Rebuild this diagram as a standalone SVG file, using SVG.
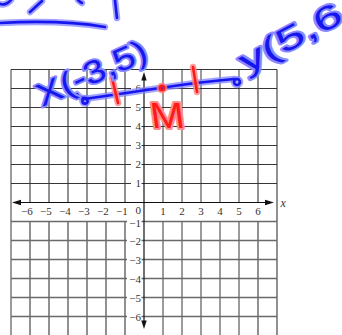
<svg xmlns="http://www.w3.org/2000/svg" width="342" height="335" viewBox="0 0 342 335">
<style>
.gd{stroke:#363636;stroke-width:1.1}
.gl{stroke:#8a8a8a;stroke-width:1.7}
.gm{stroke:#6a6a6a;stroke-width:1.4}
.ax{stroke:#111;stroke-width:1.2}
.lb{font-family:"Liberation Serif","Times New Roman",serif;font-size:11px;fill:#333}
.lbe{text-anchor:end}
.lbm{text-anchor:middle}
.it{font-style:italic;font-size:12px}
.bg{fill:none;stroke:#8383ff;stroke-opacity:0.75;stroke-width:6.5;stroke-linecap:round;stroke-linejoin:round}
.bc{fill:none;stroke:#1616ee;stroke-width:2.6;stroke-linecap:round;stroke-linejoin:round}
.rg{fill:none;stroke:#ff8585;stroke-opacity:0.8;stroke-width:6.5;stroke-linecap:round;stroke-linejoin:round}
.rc{fill:none;stroke:#ff1a1a;stroke-width:2.6;stroke-linecap:round;stroke-linejoin:round}
.bt{font-family:"Liberation Sans",Arial,sans-serif;fill:#1616ee;stroke:#8a8aff;stroke-width:3.5;stroke-linejoin:round;paint-order:stroke}
.rt{font-family:"Liberation Sans",Arial,sans-serif;fill:#ff1a1a;stroke:#ff8c8c;stroke-width:3;stroke-linejoin:round;paint-order:stroke}
</style>
<rect width="342" height="335" fill="#fff"/>
<g id="grid">
<line class="gl" x1="11" y1="69.5" x2="11" y2="335"/>
<line class="gd" x1="277" y1="69.5" x2="277" y2="335"/>
<g class="gd">
<line x1="30" y1="69.5" x2="30" y2="202.5"/><line x1="49" y1="69.5" x2="49" y2="202.5"/>
<line x1="68" y1="69.5" x2="68" y2="202.5"/><line x1="87" y1="69.5" x2="87" y2="202.5"/>
<line x1="106" y1="69.5" x2="106" y2="202.5"/><line x1="125" y1="69.5" x2="125" y2="202.5"/>
<line x1="258" y1="69.5" x2="258" y2="202.5"/>
<line x1="30" y1="221.5" x2="30" y2="335"/><line x1="49" y1="221.5" x2="49" y2="335"/>
<line x1="68" y1="221.5" x2="68" y2="335"/><line x1="87" y1="221.5" x2="87" y2="335"/>
<line x1="106" y1="221.5" x2="106" y2="335"/><line x1="125" y1="221.5" x2="125" y2="335"/>
<line x1="258" y1="221.5" x2="258" y2="335"/>
</g>
<g class="gl">
<line x1="163" y1="69.5" x2="163" y2="202.5"/><line x1="182" y1="69.5" x2="182" y2="202.5"/>
<line x1="201" y1="69.5" x2="201" y2="202.5"/><line x1="220" y1="69.5" x2="220" y2="202.5"/>
<line x1="239" y1="69.5" x2="239" y2="202.5"/>
<line x1="163" y1="221.5" x2="163" y2="335"/><line x1="182" y1="221.5" x2="182" y2="335"/>
<line x1="201" y1="221.5" x2="201" y2="335"/><line x1="220" y1="221.5" x2="220" y2="335"/>
<line x1="239" y1="221.5" x2="239" y2="335"/>
</g>
<g class="gd">
<line x1="11" y1="69.5" x2="277" y2="69.5"/>
<line x1="11" y1="88.5" x2="131" y2="88.5"/><line x1="141.5" y1="88.5" x2="277" y2="88.5"/>
<line x1="11" y1="107.5" x2="131" y2="107.5"/><line x1="141.5" y1="107.5" x2="277" y2="107.5"/>
<line x1="11" y1="126.5" x2="131" y2="126.5"/><line x1="141.5" y1="126.5" x2="277" y2="126.5"/>
<line x1="11" y1="145.5" x2="131" y2="145.5"/><line x1="141.5" y1="145.5" x2="277" y2="145.5"/>
<line x1="11" y1="164.5" x2="131" y2="164.5"/><line x1="141.5" y1="164.5" x2="277" y2="164.5"/>
<line x1="11" y1="183.5" x2="131" y2="183.5"/><line x1="141.5" y1="183.5" x2="277" y2="183.5"/>
</g>
<g class="gm">
<line x1="11" y1="221.5" x2="127" y2="221.5"/><line x1="141.5" y1="221.5" x2="277" y2="221.5"/>
<line x1="11" y1="240.5" x2="127" y2="240.5"/><line x1="141.5" y1="240.5" x2="277" y2="240.5"/>
<line x1="11" y1="259.5" x2="127" y2="259.5"/><line x1="141.5" y1="259.5" x2="277" y2="259.5"/>
<line x1="11" y1="278.5" x2="127" y2="278.5"/><line x1="141.5" y1="278.5" x2="277" y2="278.5"/>
<line x1="11" y1="297.5" x2="127" y2="297.5"/><line x1="141.5" y1="297.5" x2="277" y2="297.5"/>
<line x1="11" y1="316.5" x2="127" y2="316.5"/><line x1="141.5" y1="316.5" x2="277" y2="316.5"/>
</g>
</g>
<g id="axes">
<line class="ax" x1="16" y1="202.5" x2="270" y2="202.5"/>
<line class="ax" x1="144" y1="76" x2="144" y2="325"/>
<polygon points="12,202.5 21,199.8 21,205.2" fill="#111"/>
<polygon points="274,202.5 265,199.8 265,205.2" fill="#111"/>
<polygon points="144,72 141.3,80.5 146.7,80.5" fill="#111"/>
<polygon points="144,329 141.3,320.5 146.7,320.5" fill="#111"/>
</g>
<g id="labels" class="lb">
<text class="lbe" x="32.8" y="214.5">−6</text>
<text class="lbe" x="51.8" y="214.5">−5</text>
<text class="lbe" x="70.8" y="214.5">−4</text>
<text class="lbe" x="89.8" y="214.5">−3</text>
<text class="lbe" x="108.8" y="214.5">−2</text>
<text class="lbe" x="127.8" y="214.5">−1</text>
<text class="lbe" x="141" y="213.5">0</text>
<text class="lbm" x="163" y="214.5">1</text>
<text class="lbm" x="182" y="214.5">2</text>
<text class="lbm" x="201" y="214.5">3</text>
<text class="lbm" x="220" y="214.5">4</text>
<text class="lbm" x="239" y="214.5">5</text>
<text class="lbm" x="258" y="214.5">6</text>
<text class="lbe" x="141" y="92.3">6</text>
<text class="lbe" x="141" y="111.3">5</text>
<text class="lbe" x="141" y="130.3">4</text>
<text class="lbe" x="141" y="149.3">3</text>
<text class="lbe" x="141" y="168.3">2</text>
<text class="lbe" x="141" y="187.3">1</text>
<text class="lbe" x="141" y="226.5">−1</text>
<text class="lbe" x="141" y="245.3">−2</text>
<text class="lbe" x="141" y="264.3">−3</text>
<text class="lbe" x="141" y="283.3">−4</text>
<text class="lbe" x="141" y="302.3">−5</text>
<text class="lbe" x="141" y="321.3">−6</text>
<text class="it" x="280.5" y="206.5">x</text>
<text class="it" x="141.5" y="64">y</text>
</g>
<defs>
<g id="blueInk">
<path d="M0,4 Q6,6 11,0"/>
<path d="M30,12 L42,1"/>
<path d="M78,0 Q80,2 82,3"/>
<path d="M115,0 Q116,10 117,18"/>
<path d="M0,23 C35,21 75,22 105,27"/>
<path d="M77,94 Q80,99 86,98"/>
<circle cx="85" cy="101" r="2.6"/>
<path d="M84,99 Q120,94 160,88 T234,79"/>
<circle cx="237" cy="82" r="3"/>
</g>
<g id="redInk">
<path d="M112,78 L118,103"/>
<path d="M193,67 L197,92"/>
<circle cx="162" cy="88" r="2.2"/>
</g>
</defs>
<g id="ink">
<use href="#blueInk" class="bg"/>
<use href="#blueInk" class="bc"/>
<use href="#redInk" class="rg"/>
<use href="#redInk" class="rc"/>
<text class="bt" transform="translate(42,107) rotate(-24)" font-size="32" textLength="118" lengthAdjust="spacingAndGlyphs">X(-3,5)</text>
<text class="bt" transform="translate(246,74) rotate(-28)" font-size="33" textLength="112" lengthAdjust="spacingAndGlyphs">y(5,6</text>
<text class="rt" transform="translate(152,128) skewX(8) scale(1,1.3)" font-size="28" textLength="34" lengthAdjust="spacingAndGlyphs">M</text>
</g>
</svg>
